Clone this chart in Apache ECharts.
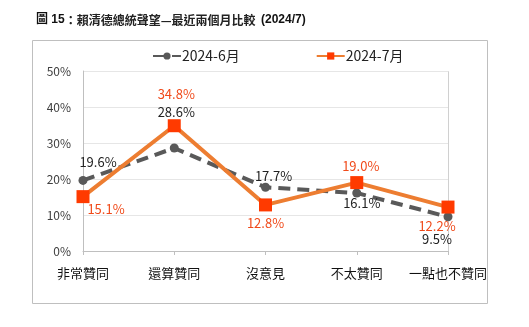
<!DOCTYPE html>
<html>
<head>
<meta charset="utf-8">
<script src="https://cdn.jsdelivr.net/npm/echarts@6/dist/echarts.min.js"></script>
<style>
html,body{margin:0;padding:0;background:#fff;}
#chart{width:529px;height:327px;}
</style>
</head>
<body>
<div id="chart"></div>
<script>
// Survey categories and the two monthly series (percent)
const categories = ['非常贊同', '還算贊同', '沒意見', '不太贊同', '一點也不贊同'];
const june = [19.6, 28.6, 17.7, 16.1, 9.5];
const july = [15.1, 34.8, 12.8, 19.0, 12.2];
const yTicks = [0, 10, 20, 30, 40, 50];

// Label offsets per point, keeping the two series' labels apart
const juneOffsets = [[15, -18], [2, -36], [8, -11], [5, 10], [-11, 22]];
const julyOffsets = [[23, 12], [2, -32], [0, 18], [4, -17], [-11, 19]];

const FONT = '"Noto Sans CJK TC", "Noto Sans", sans-serif';

function withLabels(values, offsets, color) {
  return values.map((v, i) => ({
    value: v,
    label: {
      show: true,
      position: 'inside',
      offset: offsets[i],
      formatter: v.toFixed(1) + '%',
      color: color,
      fontSize: 13,
      fontFamily: FONT
    }
  }));
}

const chart = echarts.init(document.getElementById('chart'), null, {renderer: 'canvas'});
chart.setOption({
  backgroundColor: '#fff',
  animation: false,
  title: {
    left: 31, top: 9,
    text: '{b|圖 15}{n|：賴清德總統聲望—最近兩個月比較  }{b|(2024/7)}',
    textStyle: {
      rich: {
        b: {fontSize: 12, fontWeight: 'bold', color: '#111', fontFamily: 'Arial, "Noto Sans CJK TC", sans-serif'},
        n: {fontSize: 12, color: '#222', fontFamily: FONT}
      }
    }
  },
  graphic: [{
    type: 'rect',
    shape: {x: 32.5, y: 40.5, width: 455, height: 263},
    style: {fill: 'none', stroke: '#bfbfbf', lineWidth: 1},
    silent: true
  }, {
    type: 'rect',
    shape: {x: 83.5, y: 71.5, width: 365, height: 180},
    style: {fill: 'none', stroke: '#d0d0d0', lineWidth: 1},
    silent: true,
    z: -1
  }],
  legend: {
    top: 44,
    left: 147,
    itemGap: 76,
    itemWidth: 28,
    itemHeight: 9,
    textStyle: {fontSize: 14, color: '#222', fontFamily: FONT, padding: [0, 0, 0, -4]},
    data: ['2024-6月', '2024-7月']
  },
  grid: {left: 83, right: 81, top: 71, bottom: 76},
  xAxis: {
    type: 'category',
    data: categories,
    boundaryGap: false,
    axisLine: {lineStyle: {color: '#bfbfbf'}},
    axisTick: {show: true, alignWithLabel: true, length: 4, lineStyle: {color: '#bfbfbf'}},
    axisLabel: {color: '#111', fontSize: 13, margin: 16, fontFamily: FONT, interval: 0}
  },
  yAxis: {
    type: 'value',
    min: yTicks[0],
    max: yTicks[yTicks.length - 1],
    interval: 10,
    axisLine: {show: true, lineStyle: {color: '#bfbfbf'}},
    axisTick: {show: false},
    splitLine: {lineStyle: {color: '#e6e6e6'}},
    axisLabel: {color: '#404040', fontSize: 12, margin: 12, fontFamily: FONT, formatter: '{value}%'}
  },
  series: [{
    name: '2024-6月',
    type: 'line',
    data: withLabels(june, juneOffsets, '#222'),
    symbol: 'circle',
    symbolSize: 9,
    itemStyle: {color: '#595959'},
    lineStyle: {color: '#595959', width: 4, type: [12, 7]},
    z: 2
  }, {
    name: '2024-7月',
    type: 'line',
    data: withLabels(july, julyOffsets, '#f04a1a'),
    symbol: 'rect',
    symbolSize: 13,
    itemStyle: {color: '#ff3a00'},
    lineStyle: {color: '#ed7d31', width: 4},
    z: 3
  }]
});
</script>
</body>
</html>
